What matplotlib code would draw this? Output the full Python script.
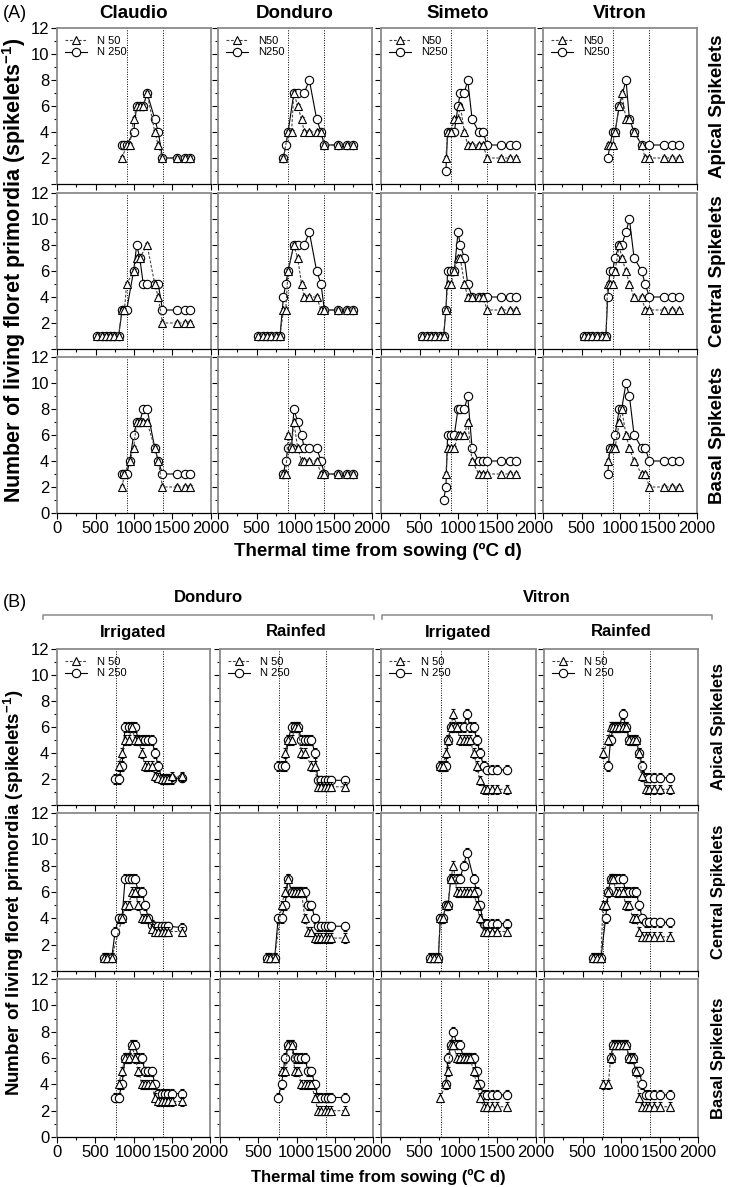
import numpy as np
import matplotlib
matplotlib.use("Agg")
import matplotlib.pyplot as plt
from matplotlib.ticker import MultipleLocator
from matplotlib.lines import Line2D

plt.rcParams['font.family'] = ['Liberation Sans', 'DejaVu Sans']
plt.rcParams['mathtext.fontset'] = 'custom'
plt.rcParams['mathtext.rm'] = 'Liberation Sans'
plt.rcParams['mathtext.bf'] = 'Liberation Sans:bold'

n = np.nan

# ---------------- (A) cultivars, N50 / N250 ----------------
cultivars_a = ["Claudio", "Donduro", "Simeto", "Vitron"]
positions = ["Apical Spikelets", "Central Spikelets", "Basal Spikelets"]
vlines_a = [905, 1375]

t_claudio = [525, 580, 635, 690, 745, 800, 845, 875, 905, 945, 995, 1035, 1075, 1120, 1170, 1270, 1315, 1370, 1560, 1665, 1730]
cl_ap_n50 = [n, n, n, n, n, n, 2, n, 3, 3, 5, 6, 6, 6, 7, 4, 3, 2, 2, 2, 2]
cl_ap_n250 = [n, n, n, n, n, n, 3, 3, 3, n, 4, 6, 6, 6, 7, 5, 4, 2, 2, 2, 2]
cl_ce_n50 = [1, 1, 1, 1, 1, 1, 3, 3, 5, n, 6, 7, 7, n, 8, 5, 4, 2, 2, 2, 2]
cl_ce_n250 = [1, 1, 1, 1, 1, 1, 3, 3, 3, n, 6, 8, 7, 5, 5, 5, 5, 3, 3, 3, 3]
cl_ba_n50 = [n, n, n, n, n, n, 2, 3, n, 4, 5, 7, 7, 7, 7, 5, 4, 2, 2, 2, 2]
cl_ba_n250 = [n, n, n, n, n, n, 3, 3, 3, 4, 6, 7, 7, 8, 8, 5, 4, 3, 3, 3, 3]

t_donduro = [524, 580, 636, 692, 748, 805, 850, 880, 910, 955, 985, 1035, 1085, 1120, 1186, 1281, 1338, 1381, 1554, 1671, 1749]
do_ap_n50 = [n, n, n, n, n, n, 2, n, 4, 4, 7, 6, 5, 4, 4, 4, 4, 3, 3, 3, 3]
do_ap_n250 = [n, n, n, n, n, n, 2, 3, 4, n, 7, 7, n, 7, 8, 5, 4, 3, 3, 3, 3]
do_ce_n50 = [1, 1, 1, 1, 1, 1, 3, 3, 6, n, 8, 7, 5, 4, 4, 4, 3, 3, 3, 3, 3]
do_ce_n250 = [1, 1, 1, 1, 1, 1, 4, 5, 6, n, 8, 8, n, 8, 9, 6, 5, 3, 3, 3, 3]
do_ba_n50 = [n, n, n, n, n, n, 3, 3, 6, 5, 7, 5, 4, 4, 4, 4, 3, 3, 3, 3, 3]
do_ba_n250 = [n, n, n, n, n, n, 3, 4, 5, 5, 8, 7, 6, 5, 5, 5, 4, 3, 3, 3, 3]

t_simeto = [535, 591, 648, 704, 761, 813, 843, 865, 909, 952, 1000, 1030, 1083, 1126, 1183, 1270, 1326, 1378, 1552, 1674, 1748]
si_ap_n50 = [n, n, n, n, n, n, 2, 4, 4, 5, 5, 6, 4, 3, 3, 3, 3, 2, 2, 2, 2]
si_ap_n250 = [n, n, n, n, n, n, 1, 4, 4, 4, 6, 7, 7, 8, 5, 4, 4, 3, 3, 3, 3]
si_ce_n50 = [1, 1, 1, 1, 1, 1, 3, 5, 5, 6, 7, 7, 5, 4, 4, 4, 4, 3, 3, 3, 3]
si_ce_n250 = [1, 1, 1, 1, 1, 1, 3, 6, 6, 6, 9, 8, 7, 5, 4, 4, 4, 4, 4, 4, 4]
si_ba_n50 = [n, n, n, n, n, n, 3, 5, 5, 5, 6, 6, 6, 7, 4, 3, 3, 3, 3, 3, 3]
si_ba_n250 = [n, n, n, n, n, 1, 2, 6, 6, 6, 8, 8, 8, 9, 5, 4, 4, 4, 4, 4, 4]

t_vitron = [530, 585, 640, 700, 760, 817, 840, 870, 904, 935, 991, 1022, 1078, 1122, 1183, 1283, 1326, 1383, 1565, 1674, 1761]
vi_ap_n50 = [n, n, n, n, n, n, 3, 3, 3, 4, 6, 7, 5, 5, 4, 3, 2, 2, 2, 2, 2]
vi_ap_n250 = [n, n, n, n, n, n, 2, n, 4, 4, 6, n, 8, 5, 4, 3, n, 3, 3, 3, 3]
vi_ce_n50 = [1, 1, 1, 1, 1, 1, 5, 5, 5, 6, 8, 7, 6, 5, 4, 4, 3, 3, 3, 3, 3]
vi_ce_n250 = [1, 1, 1, 1, 1, 1, 4, 6, 6, 7, 8, 8, 9, 10, 7, 6, 5, 4, 4, 4, 4]
vi_ba_n50 = [n, n, n, n, n, n, 4, 5, 5, 5, 7, 8, 6, 5, 4, 3, 3, 2, 2, 2, 2]
vi_ba_n250 = [n, n, n, n, n, n, 3, 5, 5, 6, 8, 8, 10, 9, 6, 5, 5, 4, 4, 4, 4]

# ---------------- (B) Donduro / Vitron, irrigated / rainfed ----------------
vlines_b = [770, 1380]
err_b = 0.35

t_b_donduro = [610, 660, 715, 760, 805, 850, 890, 935, 980, 1020, 1065, 1110, 1150, 1195, 1240, 1280, 1325, 1370, 1410, 1455, 1500, 1630]
di_ap_n50 = [n, n, n, n, 3, 4, 5, 5, 6, 5, 5, 4, 3, 3, 3, 2.2, 2.1, 2, 2, 2, 2.2, 2.2]
di_ap_n250 = [n, n, n, 2, 2, 3, 6, 6, 6, 6, 5, 5, 5, 5, 5, 4, 3, 2, 2, 2, 2, 2.1]
di_ce_n50 = [1, 1, 1, n, n, 4, 5, 5, 6, 6, 5, 4, 4, 4, 3.2, 3, 3, 3, 3, 3, n, 3]
di_ce_n250 = [1, 1, 1, 3, 4, 4, 7, 7, 7, 7, 6, 6, 5, 4, 3.5, 3.4, 3.4, 3.4, 3.4, 3.4, n, 3.3]
di_ba_n50 = [n, n, n, n, 4, 5, 6, 6, 7, 6, 5, 4, 4, 4, 4, 3, 2.7, 2.7, 2.7, 2.7, 2.7, 2.7]
di_ba_n250 = [n, n, n, 3, 3, 4, 6, 6, 7, 7, 6, 6, 5, 5, 5, 4, 3.3, 3.3, 3.3, 3.3, 3.3, 3.3]

dr_ap_n50 = [n, n, n, n, n, 4, 5, 5, 6, 6, 4, 4, n, 3, 3, 1.4, 1.4, 1.4, 1.4, 1.4, n, 1.4]
dr_ap_n250 = [n, n, n, 3, 3, 3, 5, 6, 6, 6, 5, 5, 5, 5, 4, 1.9, 1.9, 1.9, 1.9, 1.9, n, 1.9]
dr_ce_n50 = [1, 1, 1, n, 5, 6, 7, 6, 6, 6, 6, 4, 3, 3, 2.5, 2.5, 2.5, 2.5, 2.5, 2.5, n, 2.5]
dr_ce_n250 = [1, 1, 1, 4, 4, 5, 7, 6, 6, 6, 6, 6, 5, 5, 4, 3.4, 3.4, 3.4, 3.4, 3.4, n, 3.4]
dr_ba_n50 = [n, n, n, n, 5, 5, 7, 7, 5, 5, 4, 4, 4, 4, 3, 2, 2, 2, 2, 2, n, 2]
dr_ba_n250 = [n, n, n, 3, 4, 6, 7, 7, 6, 6, 6, 6, 5, 5, 4, 3, 3, 3, 3, 3, n, 3]

t_b_vitron = [635, 690, 740, 765, 800, 835, 865, 900, 935, 980, 1020, 1065, 1110, 1150, 1195, 1237, 1275, 1325, 1370, 1430, 1500, 1630]
vr_ap_n50 = [n, n, n, 3, 3, 4, 5, 6, 7, 6, 5, 5, 5, 5, 4, 3, 1.9, 1.2, 1.2, 1.2, 1.2, 1.2]
vr_ap_n250 = [n, n, n, 3, 3, 3, 5, 6, 6, 6, 6, 6, 7, 6, 6, 5, 4, 3, 2.7, 2.7, 2.7, 2.7]
vr_ce_n50 = [1, 1, 1, 4, 4, 5, 5, 7, 8, 6, 6, 6, 6, 6, 6, 5, 4, 3, 3, 3, 3, 3]
vr_ce_n250 = [1, 1, 1, 4, 4, 5, 5, 7, 7, 7, 7, 8, 9, n, 7, 6, 5, 3.6, 3.6, 3.6, 3.6, 3.6]
vr_ba_n50 = [n, n, n, 3, n, 4, 5, 7, 7, 6, 6, 6, 6, 6, 5, 4, 3, 2.3, 2.3, 2.3, 2.3, 2.3]
vr_ba_n250 = [n, n, n, n, n, 4, 6, 7, 8, 7, 7, 6, 6, 6, 6, 5, 4, 3.2, 3.2, 3.2, 3.2, 3.2]

vf_ap_n50 = [n, n, n, 4, n, 5, 6, 6, 6, 6, 6, 6, 5, 5, 5, 4, 2.2, 1.2, 1.2, 1.2, 1.2, 1.2]
vf_ap_n250 = [n, n, n, n, n, 3, 5, 6, 6, 6, 7, 6, 5, 5, 5, 4, 3, 2.1, 2.1, 2.1, 2.1, 2.1]
vf_ce_n50 = [1, 1, 1, 5, 5, 6, 7, 7, 6, 6, 6, 5, 5, 4, 4, 3, 2.6, 2.6, 2.6, 2.6, 2.6, 2.6]
vf_ce_n250 = [1, 1, 1, n, 4, 6, 7, 7, 7, 7, 7, 6, 6, 6, 6, 5, 4, 3.7, 3.7, 3.7, 3.7, 3.7]
vf_ba_n50 = [n, n, n, 4, n, 4, 6, 7, 7, 7, 7, 7, 6, 6, 5, 3, 2.3, 2.3, 2.3, 2.3, 2.3, 2.3]
vf_ba_n250 = [n, n, n, n, n, n, 6, 7, 7, 7, 7, 7, 6, 6, 5, 5, 4, 3.2, 3.2, 3.2, 3.2, 3.2]

panels_a = [
    [(t_claudio, cl_ap_n50, cl_ap_n250), (t_donduro, do_ap_n50, do_ap_n250),
     (t_simeto, si_ap_n50, si_ap_n250), (t_vitron, vi_ap_n50, vi_ap_n250)],
    [(t_claudio, cl_ce_n50, cl_ce_n250), (t_donduro, do_ce_n50, do_ce_n250),
     (t_simeto, si_ce_n50, si_ce_n250), (t_vitron, vi_ce_n50, vi_ce_n250)],
    [(t_claudio, cl_ba_n50, cl_ba_n250), (t_donduro, do_ba_n50, do_ba_n250),
     (t_simeto, si_ba_n50, si_ba_n250), (t_vitron, vi_ba_n50, vi_ba_n250)],
]
panels_b = [
    [(t_b_donduro, di_ap_n50, di_ap_n250), (t_b_donduro, dr_ap_n50, dr_ap_n250),
     (t_b_vitron, vr_ap_n50, vr_ap_n250), (t_b_vitron, vf_ap_n50, vf_ap_n250)],
    [(t_b_donduro, di_ce_n50, di_ce_n250), (t_b_donduro, dr_ce_n50, dr_ce_n250),
     (t_b_vitron, vr_ce_n50, vr_ce_n250), (t_b_vitron, vf_ce_n50, vf_ce_n250)],
    [(t_b_donduro, di_ba_n50, di_ba_n250), (t_b_donduro, dr_ba_n50, dr_ba_n250),
     (t_b_vitron, vr_ba_n50, vr_ba_n250), (t_b_vitron, vf_ba_n50, vf_ba_n250)],
]
legend_a = [("N 50", "N 250"), ("N50", "N250"), ("N50", "N250"), ("N50", "N250")]
legend_b = ("N 50", "N 250")

W, H = 730, 1187
fig = plt.figure(figsize=(W / 100, H / 100), dpi=100)

N50_STYLE = dict(color='#444444', lw=0.8, ls=(0, (2.5, 1.5)), marker='^', ms=6,
                 mfc='white', mec='black', mew=0.8)
N250_STYLE = dict(color='black', lw=0.8, ls='-', marker='o', ms=6,
                  mfc='white', mec='black', mew=0.8)


def rect(x0, y0, x1, y1):
    return [x0 / W, 1 - y1 / H, (x1 - x0) / W, (y1 - y0) / H]


def ftext(x, y, s, **kw):
    fig.text(x / W, 1 - y / H, s, **kw)


def draw_panel(ax, t, y50, y250, vlines, err, row, col, labels=None):
    t = np.asarray(t, float)
    y50 = np.asarray(y50, float)
    y250 = np.asarray(y250, float)
    for v in vlines:
        ax.axvline(v, color='black', ls=(0, (1, 1.5)), lw=0.7, zorder=1)
    m = np.isfinite(y250)
    ax.errorbar(t[m], y250[m], yerr=err, capsize=1.5, elinewidth=0.7, ecolor='black',
                zorder=3, **N250_STYLE)
    m = np.isfinite(y50)
    ax.errorbar(t[m], y50[m], yerr=err, capsize=1.5, elinewidth=0.7, ecolor='black',
                zorder=4, **N50_STYLE)
    ax.set_xlim(0, 2000)
    ax.set_ylim(0, 12)
    ax.set_xticks([0, 500, 1000, 1500, 2000])
    ax.xaxis.set_minor_locator(MultipleLocator(250))
    ax.set_yticks(range(0, 13, 2))
    ax.yaxis.set_minor_locator(MultipleLocator(1))
    ax.tick_params(which='major', direction='out', length=4, width=0.8, labelsize=12, pad=1.5)
    ax.tick_params(which='minor', direction='out', length=2.5, width=0.8)
    for s in ax.spines.values():
        s.set_color('#8a8a8a')
        s.set_linewidth(1.3)
    ax.spines['bottom'].set_color('black')
    ax.spines['bottom'].set_linewidth(0.9)
    if col == 0:
        ylab = [str(v) for v in range(0, 13, 2)]
        if row < 2:
            ylab[0] = ''
        ax.set_yticklabels(ylab)
    else:
        ax.set_yticklabels([])
    if row == 2:
        xlab = ['0', '500', '1000', '1500', '2000']
        if col > 0:
            xlab[0] = ''
        ax.set_xticklabels(xlab)
    else:
        ax.set_xticklabels([])
    if labels:
        handles = [Line2D([], [], **N50_STYLE), Line2D([], [], **N250_STYLE)]
        ax.legend(handles, labels, loc='upper left', frameon=False, fontsize=8,
                  handlelength=2.0, handletextpad=0.9, labelspacing=0.15,
                  borderaxespad=0.3, borderpad=0.4)


cols_a = [(57, 211), (218, 372), (381, 535), (543, 697)]
rows_a = [(28, 184), (193, 349), (357, 513)]
cols_b = [(57, 210), (220, 373), (381, 536), (544, 698)]
rows_b = [(649, 805), (813, 971), (979, 1137)]

for r, (y0, y1) in enumerate(rows_a):
    for c, (x0, x1) in enumerate(cols_a):
        ax = fig.add_axes(rect(x0, y0, x1, y1))
        t, a, b = panels_a[r][c]
        draw_panel(ax, t, a, b, vlines_a, 0.15, r, c, legend_a[c] if r == 0 else None)

for r, (y0, y1) in enumerate(rows_b):
    for c, (x0, x1) in enumerate(cols_b):
        ax = fig.add_axes(rect(x0, y0, x1, y1))
        t, a, b = panels_b[r][c]
        draw_panel(ax, t, a, b, vlines_b, err_b, r, c, legend_b if r == 0 else None)

# labels for (A)
ftext(3, 13, "(A)", fontsize=13, ha='left', va='center')
for name, (x0, x1) in zip(cultivars_a, cols_a):
    ftext((x0 + x1) / 2, 13, name, fontsize=13.5, weight='bold', ha='center', va='center')
for name, (y0, y1) in zip(positions, rows_a):
    ftext(718, (y0 + y1) / 2, name, fontsize=13.5, weight='bold', rotation=90, ha='center', va='center')
ftext(14, 270, "Number of living floret primordia (spikelets$^{\\mathbf{-1}}$)", fontsize=15.5,
      weight='bold', rotation=90, ha='center', va='center')
ftext(378, 551, "Thermal time from sowing (ºC d)", fontsize=13.5, weight='bold', ha='center', va='center')

# labels for (B)
ftext(3, 603, "(B)", fontsize=13, ha='left', va='center')
for name, xa, xb in [("Donduro", 43, 374), ("Vitron", 382, 712)]:
    ftext((xa + xb) / 2, 598, name, fontsize=12, weight='bold', ha='center', va='center')
    fig.add_artist(Line2D([xa / W, xa / W, xb / W, xb / W],
                          [1 - 619 / H, 1 - 615 / H, 1 - 615 / H, 1 - 619 / H],
                          color='#8a8a8a', lw=1.1))
for name, (x0, x1) in zip(["Irrigated", "Rainfed", "Irrigated", "Rainfed"], cols_b):
    ftext((x0 + x1) / 2, 632, name, fontsize=12, weight='bold', ha='center', va='center')
for name, (y0, y1) in zip(positions, rows_b):
    ftext(718, (y0 + y1) / 2, name, fontsize=12, weight='bold', rotation=90, ha='center', va='center')
ftext(14, 893, "Number of living floret primordia (spikelets$^{\\mathbf{-1}}$)", fontsize=13.5,
      weight='bold', rotation=90, ha='center', va='center')
ftext(378, 1177, "Thermal time from sowing (ºC d)", fontsize=12, weight='bold', ha='center', va='center')

fig.savefig("out.png", dpi=100)
